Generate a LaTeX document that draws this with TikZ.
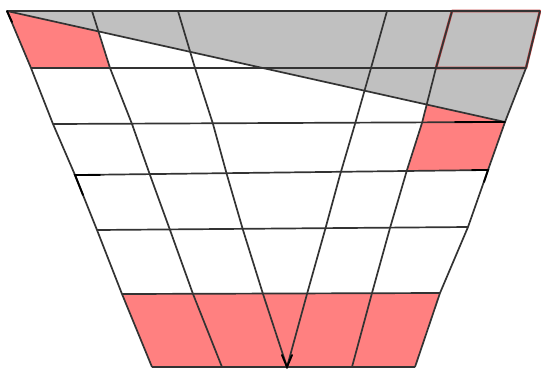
\documentclass[tikz,border=0pt]{standalone}
\begin{document}
\begin{tikzpicture}[x=1pt,y=-1pt,
  gridline/.style={draw=black!80,line width=1.7pt,line join=round},
  accent/.style={draw=black,line width=1.9pt,line cap=round},
  redcell/.style={fill=cellred},
  graycell/.style={fill=cellgray},
  redrim/.style={draw=rimred,line width=2.6pt,line join=round}]
\definecolor{cellred}{HTML}{FF8080}
\definecolor{cellgray}{HTML}{C0C0C0}
\definecolor{rimred}{HTML}{C84848}
\useasboundingbox (0,0) rectangle (541,368);
\fill[white] (0,0) rectangle (541,368);
% left edge
\coordinate (L0) at (7,11);   \coordinate (L1) at (31,68);
\coordinate (L2) at (53,124); \coordinate (L3) at (75,175);
\coordinate (L4) at (97,230); \coordinate (L5) at (122,294);
\coordinate (L6) at (152,367);
% right edge
\coordinate (R0) at (540,11);  \coordinate (R1) at (526,68);
\coordinate (R2) at (505,122); \coordinate (R3) at (488,170);
\coordinate (R4) at (468,227); \coordinate (R5) at (440,293);
\coordinate (R6) at (415,367);
% inner lines
\coordinate (A0) at (92,11);  \coordinate (A1) at (110,68);
\coordinate (A2) at (132,124);\coordinate (A3) at (150,175);
\coordinate (A4) at (170,230);\coordinate (A5) at (193,294);
\coordinate (A6) at (222,367);
\coordinate (B0) at (178,11); \coordinate (B1) at (195,68);
\coordinate (B2) at (213,124);\coordinate (B3) at (227,175);
\coordinate (B4) at (243,230);\coordinate (B5) at (263,294);
\coordinate (B6) at (287,367);
\coordinate (C0) at (387,11); \coordinate (C1) at (371,68);
\coordinate (C2) at (355,124);\coordinate (C3) at (340,175);
\coordinate (C4) at (325,230);\coordinate (C5) at (307,294);
\coordinate (C6) at (287,367);
\coordinate (D0) at (452,11); \coordinate (D1) at (436,68);
\coordinate (D2) at (422,123);\coordinate (D3) at (407,170);
\coordinate (D4) at (390,228);\coordinate (D5) at (372,293);
\coordinate (D6) at (352,367);
% red cells
\path[redcell] (L0) -- (A0) -- (A1) -- (L1) -- cycle;
\path[redcell] (D1) -- (R1) -- (R2) -- (R3) -- (D3) -- (D2) -- cycle;
\path[redcell] (L5) -- (R5) -- (R6) -- (L6) -- cycle;
% gray region above the diagonal
\path[graycell] (L0) -- (R0) -- (R1) -- (R2) -- cycle;
% red rims
\draw[redrim] (D0) -- (R0) -- (R1) -- (D1) -- cycle;
\draw[draw=rimred,line width=2.6pt] ([xshift=4pt]L0) -- (A0);
% grid
\draw[gridline] (L0) -- (R0);
\draw[gridline] (L6) -- (R6);
\draw[gridline] (L0) -- (L1) -- (L2) -- (L3) -- (L4) -- (L5) -- (L6);
\draw[gridline] (R0) -- (R1) -- (R2) -- (R3) -- (R4) -- (R5) -- (R6);
\foreach \i in {1,...,5} { \draw[gridline] (L\i) -- (R\i); }
\draw[gridline] (A0) -- (A1) -- (A2) -- (A3) -- (A4) -- (A5) -- (A6);
\draw[gridline] (B0) -- (B1) -- (B2) -- (B3) -- (B4) -- (B5) -- (B6);
\draw[gridline] (C0) -- (C1) -- (C2) -- (C3) -- (C4) -- (C5) -- (C6);
\draw[gridline] (D0) -- (D1) -- (D2) -- (D3) -- (D4) -- (D5) -- (D6);
\draw[gridline] (L0) -- (R2);
% darker accents
\coordinate (K1) at (100,175); \coordinate (K2) at (83,195);
\draw[accent] (K1) -- (L3) -- (K2);
\coordinate (K3) at (472,170); \coordinate (K4) at (484,182);
\draw[accent] (K3) -- (R3) -- (K4);
\coordinate (K5) at (455,122);
\draw[accent] (K5) -- (R2);
\coordinate (K6) at (282,355); \coordinate (K7) at (292,355);
\draw[accent] (K6) -- (B6) -- (K7);
\coordinate (K8) at (12,22);
\draw[accent] (L0) -- (K8);
\end{tikzpicture}
\end{document}
